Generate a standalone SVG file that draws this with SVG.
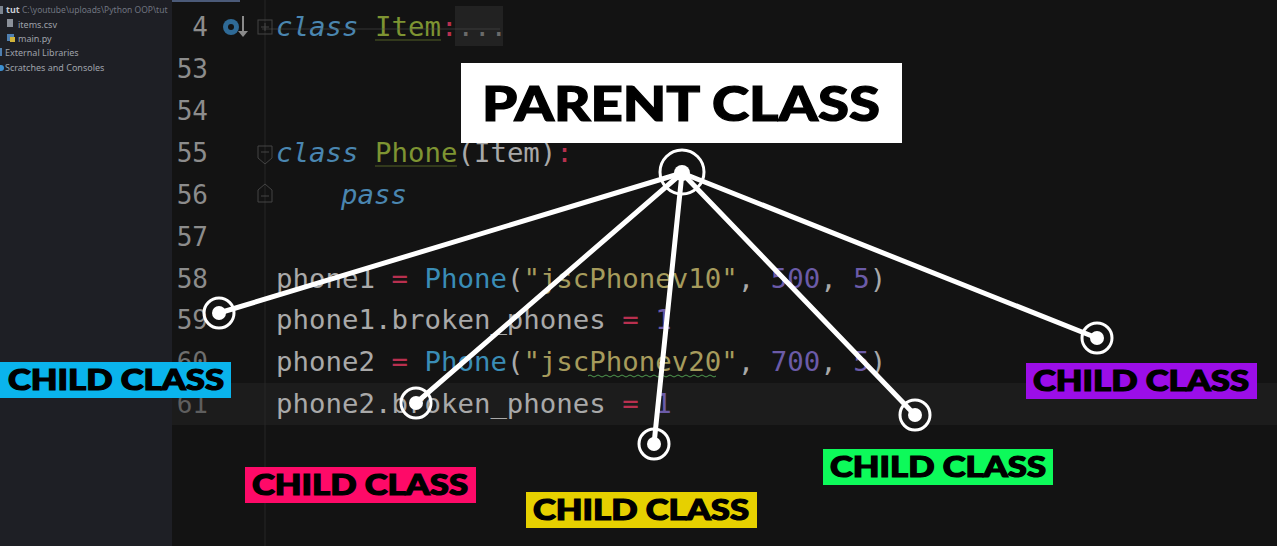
<svg xmlns="http://www.w3.org/2000/svg" width="1277" height="546" viewBox="0 0 1277 546">
<style>
.side{font-family:"Noto Sans","Liberation Sans",sans-serif;font-size:9px;fill:#9ea2aa}
.ln{font-family:"DejaVu Sans Mono","Liberation Mono",monospace;font-size:26px;fill:#8c8c8c;text-anchor:end}
.code{font-family:"DejaVu Sans Mono","Liberation Mono",monospace;font-size:27.4px;fill:#a9a9a9;white-space:pre}
.kw{fill:#4a86b0;font-style:italic}
.cls{fill:#7e9432}
.call{fill:#3a8db6}
.str{fill:#a69b5c}
.num{fill:#6b5ba8}
.op{fill:#b8304f}
.lbl{font-family:"Lato","Liberation Sans",sans-serif;font-weight:900;fill:#000;stroke:#000;stroke-width:1.2;text-anchor:middle}
.child{font-size:28px}
.conn{stroke:#fff;stroke-width:5;stroke-linecap:round;fill:none}
.ring{fill:none;stroke:#fff;stroke-width:3}
.dot{fill:#fff}
</style>
<defs>
<g id="childNode"><circle class="ring" r="15"/><circle class="dot" r="7"/></g>
</defs>
<!-- background -->
<rect x="0" y="0" width="1277" height="546" fill="#131313"/>
<rect x="0" y="0" width="172" height="546" fill="#1e1f25"/>
<rect x="172" y="0" width="68" height="2" fill="#4b5a78"/>
<rect x="172" y="383" width="1105" height="42" fill="#1c1c1c"/>
<line x1="265" y1="0" x2="265" y2="546" stroke="#262626" stroke-width="1"/>
<!-- sidebar -->
<g id="sidebar">
<rect x="0" y="6" width="3" height="8" fill="#7d8590"/>
<text class="side" x="6" y="13" style="font-weight:bold;fill:#c8ccd2">tut</text>
<text class="side" x="22" y="13" style="fill:#707580;font-size:8.5px">C:\youtube\uploads\Python OOP\tut</text>
<rect x="7" y="19" width="6" height="8" fill="#8b9099"/>
<text class="side" x="18" y="28">items.csv</text>
<rect x="7" y="34" width="7" height="7" fill="#4f7fb0"/>
<rect x="10" y="37" width="5" height="5" fill="#d1b43a"/>
<text class="side" x="18" y="42">main.py</text>
<rect x="0" y="48" width="2" height="8" fill="#4f7fb0"/>
<text class="side" x="5" y="56">External Libraries</text>
<circle cx="1" cy="68" r="3" fill="#3d8fd0"/>
<text class="side" x="5" y="71">Scratches and Consoles</text>
</g>
<!-- gutter -->
<g id="gutter">
<text class="ln" x="208" y="36">4</text>
<text class="ln" x="208" y="78">53</text>
<text class="ln" x="208" y="120">54</text>
<text class="ln" x="208" y="162">55</text>
<text class="ln" x="208" y="204">56</text>
<text class="ln" x="208" y="246">57</text>
<text class="ln" x="208" y="288">58</text>
<text class="ln" x="208" y="329">59</text>
<text class="ln" x="208" y="371" style="fill:#6e6e6e">60</text>
<text class="ln" x="208" y="413" style="fill:#5e5e5e">61</text>
<circle cx="231" cy="27" r="8" fill="#2f6a96"/>
<circle cx="231" cy="27" r="3" fill="#131313"/>
<line x1="243" y1="16" x2="243" y2="33" stroke="#8a8a8a" stroke-width="2"/>
<path d="M238,31 L243,37 L248,31 Z" fill="#8a8a8a"/>
<rect x="258" y="20" width="14" height="14" fill="none" stroke="#444" stroke-width="1"/>
<path d="M261,27 H269 M265,23 V31" stroke="#444" stroke-width="1"/>
<path d="M258,146 H272 V158 L265,164 L258,158 Z" fill="none" stroke="#444" stroke-width="1"/>
<path d="M261,152 H269" stroke="#444" stroke-width="1"/>
<path d="M258,202 H272 V190 L265,184 L258,190 Z" fill="none" stroke="#444" stroke-width="1"/>
<path d="M261,196 H269" stroke="#444" stroke-width="1"/>
</g>
<!-- code -->
<g id="code">
<rect x="455" y="6" width="48" height="40" fill="#222"/>
<text class="code" x="276" y="36"><tspan class="kw">class</tspan> <tspan class="cls">Item</tspan><tspan class="op">:</tspan><tspan fill="#6a6a6a">...</tspan></text>
<line x1="375" y1="40" x2="441" y2="40" stroke="#7e9432" stroke-width="1" opacity="0.6"/>
<line x1="262" y1="29" x2="500" y2="29" stroke="#555" stroke-width="1" opacity="0.5"/>
<text class="code" x="276" y="162"><tspan class="kw">class</tspan> <tspan class="cls">Phone</tspan>(Item)<tspan class="op">:</tspan></text>
<line x1="375" y1="166" x2="457" y2="166" stroke="#7e9432" stroke-width="1" opacity="0.6"/>
<text class="code" x="341" y="204"><tspan class="kw">pass</tspan></text>
<text class="code" x="276" y="288">phone1 <tspan class="op">=</tspan> <tspan class="call">Phone</tspan>(<tspan class="str">"jscPhonev10"</tspan>, <tspan class="num">500</tspan>, <tspan class="num">5</tspan>)</text>
<text class="code" x="276" y="329">phone1.broken_phones <tspan class="op">=</tspan> <tspan class="num">1</tspan></text>
<text class="code" x="276" y="371">phone2 <tspan class="op">=</tspan> <tspan class="call">Phone</tspan>(<tspan class="str">"jscPhonev20"</tspan>, <tspan class="num">700</tspan>, <tspan class="num">5</tspan>)</text>
<path d="M588,376 q2,-2 4,0 t4,0 t4,0 t4,0 t4,0 t4,0 t4,0 t4,0 t4,0 t4,0 t4,0 t4,0 t4,0 t4,0 t4,0 t4,0 t4,0 t4,0 t4,0 t4,0 t4,0 t4,0 t4,0 t4,0 t4,0 t4,0 t4,0 t4,0 t4,0 t4,0 t4,0 t4,0" fill="none" stroke="#4f9a4f" stroke-width="1"/>
<text class="code" x="276" y="413">phone2.broken_phones <tspan class="op">=</tspan> <tspan class="num">1</tspan></text>
</g>
<!-- connectors -->
<g id="connectors">
<line class="conn" x1="682" y1="173" x2="219" y2="313"/>
<line class="conn" x1="682" y1="173" x2="416" y2="403"/>
<line class="conn" x1="682" y1="173" x2="654" y2="444"/>
<line class="conn" x1="682" y1="173" x2="915" y2="415"/>
<line class="conn" x1="682" y1="173" x2="1097" y2="338"/>
</g>
<!-- nodes -->
<g id="parent">
<rect x="461" y="63" width="441" height="80" fill="#fff"/>
<text class="lbl" x="681" y="121" font-size="48" textLength="398" lengthAdjust="spacingAndGlyphs">PARENT CLASS</text>
<circle class="ring" cx="682" cy="172" r="22"/>
<circle class="dot" cx="682" cy="173" r="8"/>
</g>
<g id="child-cyan">
<use href="#childNode" x="219" y="313"/>
<rect x="0" y="362" width="231" height="36" fill="#0ab4ec"/>
<text class="lbl child" x="116" y="390" textLength="216" lengthAdjust="spacingAndGlyphs">CHILD CLASS</text>
</g>
<g id="child-pink">
<use href="#childNode" x="416" y="403"/>
<rect x="245" y="467" width="231" height="36" fill="#fe0a68"/>
<text class="lbl child" x="360" y="495" textLength="216" lengthAdjust="spacingAndGlyphs">CHILD CLASS</text>
</g>
<g id="child-yellow">
<use href="#childNode" x="654" y="444"/>
<rect x="526" y="492" width="231" height="36" fill="#e6d000"/>
<text class="lbl child" x="641" y="520" textLength="216" lengthAdjust="spacingAndGlyphs">CHILD CLASS</text>
</g>
<g id="child-green">
<use href="#childNode" x="915" y="415"/>
<rect x="823" y="449" width="230" height="36" fill="#0dfa5a"/>
<text class="lbl child" x="938" y="477" textLength="216" lengthAdjust="spacingAndGlyphs">CHILD CLASS</text>
</g>
<g id="child-purple">
<use href="#childNode" x="1097" y="338"/>
<rect x="1026" y="363" width="231" height="36" fill="#9b0ee8"/>
<text class="lbl child" x="1141" y="391" textLength="216" lengthAdjust="spacingAndGlyphs">CHILD CLASS</text>
</g>
</svg>
